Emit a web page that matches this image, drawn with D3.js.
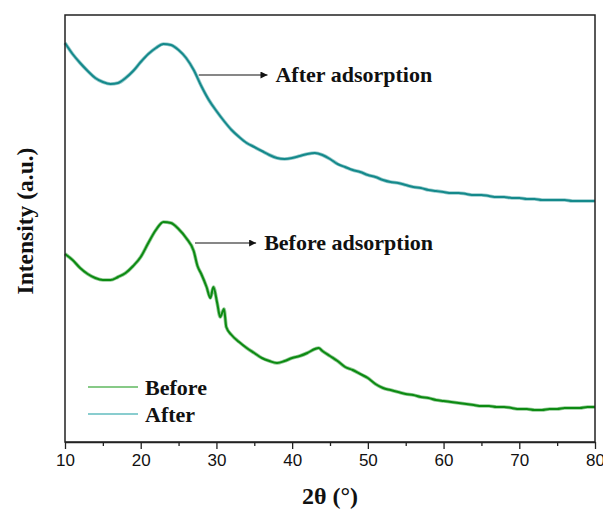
<!DOCTYPE html>
<html>
<head>
<meta charset="utf-8">
<script src="https://cdn.jsdelivr.net/npm/d3@7/dist/d3.min.js"></script>
<style>
  html, body { margin: 0; padding: 0; background: #fff; }
  svg { display: block; }
</style>
</head>
<body>
<svg id="chart" width="603" height="510"></svg>
<script>
// ---- Data (intensity in arbitrary units) ----
const xTicks = [10, 20, 30, 40, 50, 60, 70, 80];
const seriesNames = ["Before", "After"];

const afterAngle = [10,11,12,13,14,15,16,17,18,19,20,21,22,23,24,25,26,27,28,29,30,31,32,33,34,35,36,37,38,39,40,41,42,43,44,45,46,47,48,49,50,51,52,53,54,55,56,57,58,59,60,61,62,63,64,65,66,67,68,69,70,71,72,73,74,75,76,77,78,79,80];
const afterIntensity = [399,388,379,371,364,360,358,359,364,371,380,388,394,398,397,392,384,372,356,342,331,321,312,305,299,295,291,287,284,283,284,286,288,289,287,283,278,275,272,270,267,265,262,260,259,257,255,254,252,251,250,249,249,248,247,247,246,245,245,244,244,243,243,242,242,242,242,241,241,241,241];

const beforeAngle = [10,11,12,13,14,15,16,17,18,19,20,21,22,23,24,25,26,27,27.5,28,28.7,29.2,29.6,30.1,30.5,31,31.3,32,33,34,35,36,37,38,39,40,41,42,43,43.5,44,45,46,47,48,49,50,51,52,53,54,55,56,57,58,59,60,61,62,63,64,65,66,67,68,69,70,71,72,73,74,75,76,77,78,79,80];
const beforeIntensity = [188,182,174,168,164,162,162,165,169,176,185,199,212,220,219,213,204,191,176,168,155,144,155,139,125,133,115,107,100,94,89,84,81,79,81,84,86,89,93,94,91,86,81,75,72,68,64,58,54,52,50,48,47,45,44,42,41,40,39,38,37,36,36,35,35,34,33,33,32,32,33,33,34,34,34,35,35];

const annotations = [
  { text: "After adsorption", angle: 27.4, value: 367, textAngle: 37.8 },
  { text: "Before adsorption", angle: 26.9, value: 199, textAngle: 36.3 }
];

// ---- Layout ----
const svg = d3.select("#chart");
const margin = { left: 65, right: 8, top: 15, bottom: 68 };
const W = 603, H = 510;
const x = d3.scaleLinear().domain([10, 80]).range([margin.left, W - margin.right]);
const y = d3.scaleLinear().domain([0, 427]).range([H - margin.bottom, margin.top]);

const colors = { Before: "#0c8a12", After: "#14898b" };
const legendColors = { Before: "#5fb85f", After: "#62bcbf" };
const serif = "Liberation Serif, Times New Roman, serif";

// defs: arrowhead
svg.append("defs").append("marker")
  .attr("id", "arrow").attr("viewBox", "0 0 10 10")
  .attr("refX", 10).attr("refY", 5)
  .attr("markerWidth", 11).attr("markerHeight", 7)
  .attr("markerUnits", "userSpaceOnUse")
  .attr("orient", "auto")
  .append("path").attr("d", "M0,0 L10,5 L0,10 z").attr("fill", "#111");

// lines
const line = d3.line().x(d => x(d[0])).y(d => y(d[1])).curve(d3.curveMonotoneX);
const before = beforeAngle.map((a, i) => [a, beforeIntensity[i]]);
const after = afterAngle.map((a, i) => [a, afterIntensity[i]]);

[[before, colors.Before], [after, colors.After]].forEach(([data, c]) => {
  svg.append("path").datum(data)
    .attr("fill", "none").attr("stroke", c).attr("stroke-opacity", 0.45)
    .attr("stroke-width", 3.6).attr("stroke-linejoin", "round")
    .attr("d", line);
  svg.append("path").datum(data)
    .attr("fill", "none").attr("stroke", c)
    .attr("stroke-width", 2).attr("stroke-linejoin", "round")
    .attr("d", line);
});

// frame
svg.append("rect")
  .attr("x", x(10)).attr("y", margin.top)
  .attr("width", x(80) - x(10)).attr("height", y(0) - margin.top)
  .attr("fill", "none").attr("stroke", "#222").attr("stroke-width", 1.5);

// x axis
const xAxis = d3.axisBottom(x).tickValues(xTicks).tickSize(7).tickSizeOuter(0).tickPadding(5).tickFormat(d3.format("d"));
const gx = svg.append("g").attr("transform", `translate(0,${y(0)})`).call(xAxis);
gx.select(".domain").attr("stroke", "#222").attr("stroke-width", 1.5);
gx.selectAll(".tick line").attr("stroke", "#222").attr("stroke-width", 1.3);
gx.selectAll(".tick text").attr("font-family", "Liberation Sans, Arial, sans-serif")
  .attr("font-size", 17).attr("fill", "#111");
// minor ticks
const minor = d3.axisBottom(x).tickValues(d3.range(15, 80, 10)).tickSize(4).tickSizeOuter(0).tickFormat("");
const gm = svg.append("g").attr("transform", `translate(0,${y(0)})`).call(minor);
gm.select(".domain").remove();
gm.selectAll(".tick line").attr("stroke", "#222").attr("stroke-width", 1.3);

// axis titles
svg.append("text")
  .attr("x", (x(10) + x(80)) / 2).attr("y", 504)
  .attr("text-anchor", "middle")
  .attr("font-family", serif)
  .attr("font-weight", "bold").attr("font-size", 24).attr("fill", "#111")
  .text("2θ (°)");
svg.append("text")
  .attr("transform", `translate(33,221) rotate(-90)`)
  .attr("text-anchor", "middle")
  .attr("font-family", serif)
  .attr("font-weight", "bold").attr("font-size", 23.5).attr("fill", "#111")
  .text("Intensity (a.u.)");

// annotations
annotations.forEach(a => {
  const x0 = x(a.angle) + 2, yy = y(a.value);
  const tx = x(a.textAngle);
  svg.append("line")
    .attr("x1", x0).attr("y1", yy).attr("x2", tx - 8).attr("y2", yy)
    .attr("stroke", "#111").attr("stroke-width", 1.2)
    .attr("marker-end", "url(#arrow)");
  svg.append("text")
    .attr("x", tx).attr("y", yy + 7)
    .attr("font-family", serif)
    .attr("font-weight", "bold").attr("font-size", 22).attr("fill", "#111")
    .text(a.text);
});

// legend
const lg = svg.append("g");
seriesNames.forEach((s, i) => {
  const ly = 387 + i * 27;
  lg.append("line").attr("x1", 88).attr("x2", 138).attr("y1", ly).attr("y2", ly)
    .attr("stroke", legendColors[s]).attr("stroke-width", 1.3);
  lg.append("text").attr("x", 145).attr("y", ly + 8)
    .attr("font-family", serif)
    .attr("font-weight", "bold").attr("font-size", 22).attr("fill", "#111")
    .text(s);
});
</script>
</body>
</html>
